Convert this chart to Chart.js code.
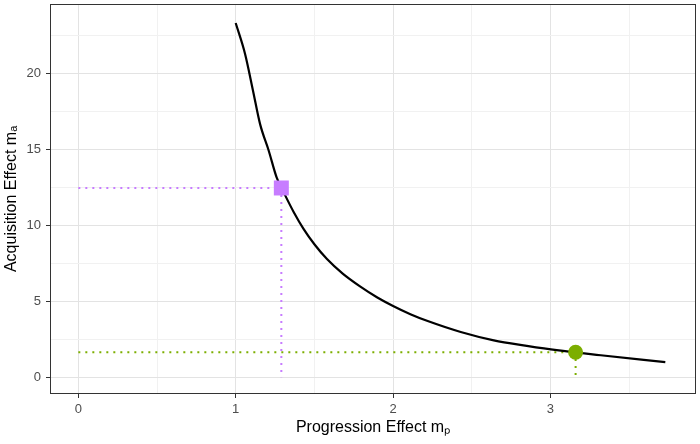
<!DOCTYPE html>
<html>
<head>
<meta charset="utf-8">
<script src="https://cdn.jsdelivr.net/npm/chart.js@4.4.0/dist/chart.umd.min.js"></script>
<style>
  body { margin: 0; background: #ffffff; }
  #contenedor { width: 700px; height: 444px; }
</style>
</head>
<body>
<div id="contenedor"><canvas id="grafico"></canvas></div>
<script>
// Datos
const curvaX = [1.0, 1.06, 1.11, 1.155, 1.21, 1.26, 1.316, 1.37, 1.43, 1.50, 1.58, 1.68, 1.79, 1.90, 2.00, 2.11, 2.22, 2.43, 2.64, 2.85, 3.04, 3.32, 3.73];
const curvaY = [23.3, 21.25, 18.85, 16.65, 14.9, 13.15, 11.93, 10.84, 9.78, 8.75, 7.78, 6.82, 5.98, 5.25, 4.69, 4.15, 3.70, 2.98, 2.43, 2.07, 1.78, 1.45, 1.0];

// Puntos marcados (cuadrado morado y círculo verde)
const marcaX = [1.29, 3.16];
const marcaY = [12.45, 1.65];
const marcaColor = ['#C77CFF', '#7CAE00'];
const marcaForma = ['rect', 'circle'];
const marcaRadio = [10.6, 7.5];

// Ejes
const ticksX = [0, 1, 2, 3];
const ticksXMenores = [0.5, 1.5, 2.5, 3.5];
const ticksY = [0, 5, 10, 15, 20];
const ticksYMenores = [2.5, 7.5, 12.5, 17.5, 22.5];
const tituloX = 'Progression Effect mₚ';
const tituloY = 'Acquisition Effect mₐ';

const fuente = "'Liberation Sans', Arial, sans-serif";

function esMayor(lista, valor) {
    return lista.some(v => Math.abs(v - valor) < 1e-6);
}

// Líneas punteadas desde cada marca hasta los ejes
const guias = marcaX.map((x, i) => ({
    type: 'line',
    data: [{ x: 0, y: marcaY[i] }, { x: x, y: marcaY[i] }, { x: x, y: 0 }],
    borderColor: marcaColor[i],
    borderWidth: 2,
    borderDash: [2, 5],
    pointRadius: 0,
    fill: false,
    tension: 0
}));

const marcas = marcaX.map((x, i) => ({
    type: 'scatter',
    data: [{ x: x, y: marcaY[i] }],
    backgroundColor: marcaColor[i],
    borderColor: marcaColor[i],
    borderWidth: 0,
    pointStyle: marcaForma[i],
    pointRadius: marcaRadio[i],
    pointHoverRadius: marcaRadio[i]
}));

const curva = {
    type: 'line',
    data: curvaX.map((x, i) => ({ x: x, y: curvaY[i] })),
    borderColor: '#000000',
    borderWidth: 2.2,
    pointRadius: 0,
    fill: false,
    cubicInterpolationMode: 'monotone'
};

// Borde del panel (estilo theme_bw)
const bordePanel = {
    id: 'bordePanel',
    afterDraw(chart) {
        const a = chart.chartArea;
        const ctx = chart.ctx;
        ctx.save();
        ctx.strokeStyle = '#333333';
        ctx.lineWidth = 1;
        ctx.strokeRect(a.left + 0.5, a.top + 0.5, a.right - a.left - 1, a.bottom - a.top - 1);
        ctx.restore();
    }
};

function opcionesGrid(mayores) {
    return {
        color: c => esMayor(mayores, c.tick.value) ? '#e3e3e3' : '#f1f1f1',
        lineWidth: 1,
        tickColor: c => esMayor(mayores, c.tick.value) ? '#333333' : 'rgba(0,0,0,0)',
        tickLength: 4,
        drawTicks: true
    };
}

// Tamaño fijo de los ejes para que el panel quede en su sitio
function ajustarEje(eje, tam) {
    if (eje.isHorizontal()) eje.height = tam; else eje.width = tam;
    eje.paddingTop = 0;
    eje.paddingBottom = 0;
    eje.paddingLeft = 0;
    eje.paddingRight = 0;
}

const ctx = document.getElementById('grafico').getContext('2d');
const myChart = new Chart(ctx, {
    type: 'line',
    data: {
        datasets: [...marcas, curva, ...guias]
    },
    options: {
        responsive: true,
        maintainAspectRatio: false,
        animation: false,
        layout: { autoPadding: false, padding: { top: 4, right: 4, left: 0, bottom: 0 } },
        plugins: {
            legend: { display: false },
            tooltip: { enabled: false }
        },
        scales: {
            x: {
                type: 'linear',
                min: -0.18,
                max: 3.925,
                afterBuildTicks: eje => { eje.ticks = ticksX.concat(ticksXMenores).sort((a, b) => a - b).map(v => ({ value: v })); },
                afterFit: eje => ajustarEje(eje, 50),
                border: { display: false },
                grid: opcionesGrid(ticksX),
                ticks: {
                    autoSkip: false,
                    maxRotation: 0,
                    padding: 4,
                    color: '#4d4d4d',
                    font: { family: fuente, size: 13 },
                    callback: v => esMayor(ticksX, v) ? String(v) : ''
                },
                title: {
                    display: true,
                    text: tituloX,
                    color: '#000000',
                    font: { family: fuente, size: 16 },
                    padding: { top: 0, bottom: 7 }
                }
            },
            y: {
                type: 'linear',
                min: -1.1,
                max: 24.55,
                afterBuildTicks: eje => { eje.ticks = ticksY.concat(ticksYMenores).sort((a, b) => a - b).map(v => ({ value: v })); },
                afterFit: eje => ajustarEje(eje, 50),
                border: { display: false },
                grid: opcionesGrid(ticksY),
                ticks: {
                    autoSkip: false,
                    padding: 5,
                    color: '#4d4d4d',
                    font: { family: fuente, size: 13 },
                    callback: v => esMayor(ticksY, v) ? String(v) : ''
                },
                title: {
                    display: true,
                    text: tituloY,
                    color: '#000000',
                    font: { family: fuente, size: 16 },
                    padding: { top: 2, bottom: 0 }
                }
            }
        }
    },
    plugins: [bordePanel]
});
</script>
</body>
</html>
